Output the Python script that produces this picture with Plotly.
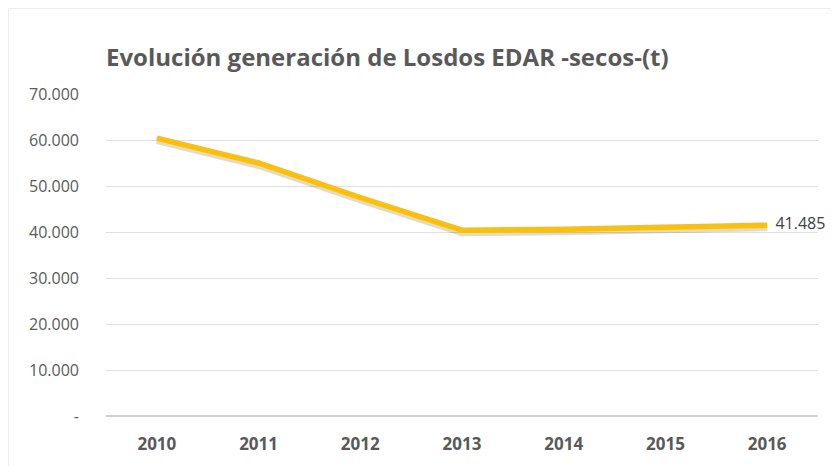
import plotly.graph_objects as go

years = ["2010", "2011", "2012", "2013", "2014", "2015", "2016"]
secos_t = [60400, 55000, 47500, 40400, 40600, 40900, 41485]
label_text = ["", "", "", "", "", "", "  41.485"]
y_tickvals = [0, 10000, 20000, 30000, 40000, 50000, 60000, 70000]
y_ticktext = ["-", "10.000", "20.000", "30.000", "40.000", "50.000", "60.000", "70.000"]

W, H = 839, 466
L, R, T, B = 98, 29, 86, 58
PW, PH = W - L - R, H - T - B
YMAX = 70000
shift = 2.5 * YMAX / PH  # shadow offset of ~2.5px downward

fig = go.Figure()
# soft drop shadow under the line (base axis, range shifted slightly)
fig.add_trace(go.Scatter(x=years, y=secos_t, mode="lines", yaxis="y",
                         line=dict(color="rgba(0,0,0,0.14)", width=7),
                         hoverinfo="skip", showlegend=False))
# main line on the visible overlay axis (drawn on top)
fig.add_trace(go.Scatter(x=years, y=secos_t, mode="lines+text", yaxis="y2",
                         line=dict(color="#FFC000", width=5.5),
                         text=label_text, textposition="middle right",
                         textfont=dict(family="Open Sans", size=16, color="#404040"),
                         cliponaxis=False, showlegend=False))

fig.update_layout(
    width=W, height=H,
    margin=dict(l=L, r=R, t=T, b=B),
    paper_bgcolor="white", plot_bgcolor="white",
    title=dict(text="<b>Evolución generación de Losdos EDAR -secos-(t)</b>",
               x=L / W, xanchor="left", y=1 - 50 / H, yanchor="middle",
               font=dict(family="Open Sans", size=24, color="#595959")),
    xaxis=dict(type="category", range=[-0.5, 6.5], showgrid=False,
               showline=False, zeroline=False, ticks="", ticklabelstandoff=16,
               tickfont=dict(family="Open Sans", size=17, color="#595959", weight="bold")),
    yaxis=dict(range=[shift, YMAX + shift], showgrid=False, zeroline=False,
               showticklabels=False, showline=False, ticks=""),
    yaxis2=dict(range=[0, YMAX], overlaying="y", side="left",
                tickvals=y_tickvals, ticktext=y_ticktext,
                showgrid=True, gridcolor="#E0E0E0", gridwidth=1,
                zeroline=True, zerolinecolor="#D0D0D0", zerolinewidth=1.5,
                showline=False, ticks="", ticklabelstandoff=26,
                tickfont=dict(family="Open Sans", size=16, color="#595959")),
    shapes=[dict(type="rect", xref="paper", yref="paper",
                 x0=-L / PW + 0.0005, x1=1 + (R - 0.5) / PW,
                 y0=-(B - 0.5) / PH, y1=1 + (T - 0.5) / PH,
                 line=dict(color="#EDEDED", width=1), fillcolor="rgba(0,0,0,0)",
                 layer="below")],
)

fig.write_html("out.html")
